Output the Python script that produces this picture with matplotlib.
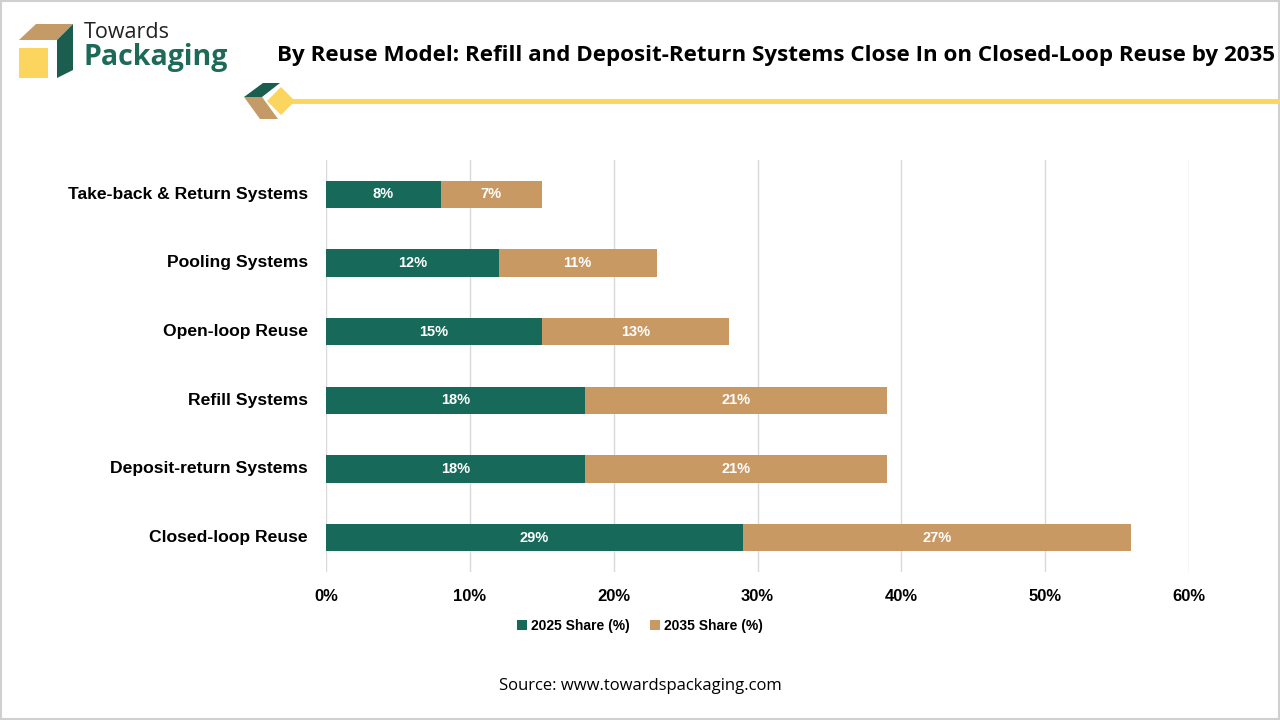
import matplotlib.pyplot as plt
from matplotlib.patches import Polygon, Rectangle
from matplotlib.ticker import FuncFormatter, MultipleLocator

categories = ['Take-back & Return Systems', 'Pooling Systems', 'Open-loop Reuse',
              'Refill Systems', 'Deposit-return Systems', 'Closed-loop Reuse']
share_2025 = [8, 12, 15, 18, 18, 29]
share_2035 = [7, 11, 13, 21, 21, 27]
series_labels = ['2025 Share (%)', '2035 Share (%)']

green = '#17695a'
tan = '#c99964'
yellow = '#fcd55f'

plt.rcParams['font.family'] = ['Liberation Sans', 'DejaVu Sans']

fig = plt.figure(figsize=(12.8, 7.2), dpi=100)
W, H = 1280, 720


def px(x, y):
    # pixel coords (top-left origin) -> figure fraction
    return x / W, 1 - y / H


def poly(points, color):
    fig.patches.append(Polygon([px(*p) for p in points], closed=True, facecolor=color,
                               edgecolor='none', transform=fig.transFigure, figure=fig))


# border
fig.patches.append(Rectangle((0.001, 0.001), 0.998, 0.997, fill=False, edgecolor='#d0d0d0',
                             linewidth=1.5, transform=fig.transFigure, figure=fig))

# logo
poly([(19, 48), (48, 48), (48, 78), (19, 78)], yellow)
poly([(19, 40), (36, 24), (73, 24), (57, 40)], '#c49a67')
poly([(57, 40), (73, 24), (73, 70), (57, 78)], '#1b5e4f')
fig.text(*px(84, 33), 'Towards', fontsize=15.5, color='#222222', va='center', family='Open Sans')
fig.text(*px(83, 58), 'Packaging', fontsize=20.5, color='#1e6a58', va='center',
         fontweight='bold', family='Open Sans')

# title
fig.text(*px(776, 55), 'By Reuse Model: Refill and Deposit-Return Systems Close In on Closed-Loop Reuse by 2035',
         fontsize=16.1, fontweight='bold', ha='center', va='center', family='Open Sans')

# header decoration
poly([(244, 97), (263, 83), (280, 83), (262, 97)], '#1b5e4f')
poly([(244, 97), (262, 97), (278, 119), (260, 119)], '#c49a67')
poly([(267, 101), (281, 87), (295, 101), (281, 115)], yellow)
fig.lines.append(plt.Line2D([292 / W, 1.0], [1 - 101 / H, 1 - 101 / H], color=yellow,
                            linewidth=3.5, transform=fig.transFigure, figure=fig))

# chart
ax = fig.add_axes([326 / W, 1 - 572 / H, (1189 - 326) / W, (572 - 160) / H])
y = list(range(len(categories)))[::-1]
b1 = ax.barh(y, share_2025, height=0.4, color=green, label=series_labels[0])
b2 = ax.barh(y, share_2035, left=share_2025, height=0.4, color=tan, label=series_labels[1])
for bars in (b1, b2):
    ax.bar_label(bars, labels=[f'{v}%' for v in bars.datavalues], label_type='center',
                 color='white', fontsize=10.5, fontweight='bold')

ax.set_xlim(0, 60)
ax.set_ylim(-0.5, len(categories) - 0.5)
ax.xaxis.set_major_locator(MultipleLocator(10))
ax.xaxis.set_major_formatter(FuncFormatter(lambda v, p: f'{v:.0f}%'))
ax.set_yticks(y)
ax.set_yticklabels(categories)
ax.grid(axis='x', color='#d9d9d9', linewidth=1)
ax.set_axisbelow(True)
for s in ax.spines.values():
    s.set_visible(False)
ax.tick_params(length=0)
ax.tick_params(axis='x', pad=12, labelsize=12)
ax.tick_params(axis='y', pad=13, labelsize=12.6)
for lab in ax.get_xticklabels() + ax.get_yticklabels():
    lab.set_fontweight('bold')
for lab in ax.get_yticklabels():
    lab.set_verticalalignment('center')

ax.legend(loc='center', bbox_to_anchor=(0.5, 1 - 626 / H), bbox_transform=fig.transFigure,
          ncol=2, frameon=False, prop={'weight': 'bold', 'size': 10},
          handlelength=0.7, handleheight=0.7, handletextpad=0.3, columnspacing=1.5)

fig.text(*px(640, 686), 'Source: www.towardspackaging.com', fontsize=12, ha='center',
         va='center', family='Open Sans')

fig.savefig('out.png', dpi=100)
